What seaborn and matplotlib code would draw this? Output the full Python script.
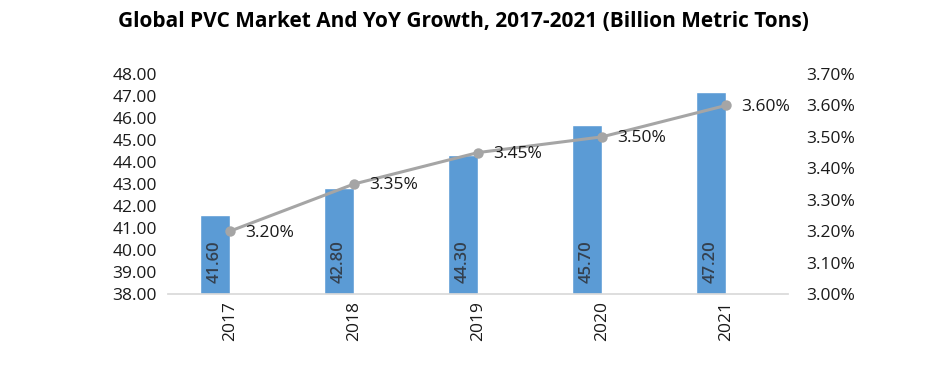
import matplotlib
matplotlib.use('Agg')
import matplotlib.pyplot as plt
import seaborn as sns
import pandas as pd

sns.set_theme(style='white')
plt.rcParams['font.family'] = ['Open Sans', 'DejaVu Sans']

# 데이터
years = ['2017', '2018', '2019', '2020', '2021']
market = [41.60, 42.80, 44.30, 45.70, 47.20]
growth = [3.20, 3.35, 3.45, 3.50, 3.60]

df = pd.DataFrame({'year': years, 'market': market, 'growth': growth})

fig = plt.figure(figsize=(9.41, 3.70), dpi=100)
ax = fig.add_axes([0.1785, 0.2054, 0.6589, 0.5946])

bar_w = 0.24
sns.barplot(data=df, x='year', y='market', color='#5B9BD5', width=bar_w,
            saturation=1, ax=ax)
# 막대를 카테고리 중심 왼쪽으로 이동 (엑셀 스타일)
for p in ax.patches:
    p.set_x(p.get_x() - bar_w / 2)

ax.set_ylim(38, 48)
ax.set_yticks(range(38, 49))
ax.set_yticklabels([f'{v:.2f}' for v in range(38, 49)], fontsize=12.5, color='#1A1A1A')
ax.set_xlabel('')
ax.set_ylabel('')
ax.tick_params(axis='x', labelrotation=90, labelsize=12.5, length=0, pad=5,
               labelcolor='#1A1A1A')
ax.tick_params(axis='y', length=0, pad=8)
for s in ['top', 'right', 'left']:
    ax.spines[s].set_visible(False)
ax.spines['bottom'].set_color('#D9D9D9')

# 막대 라벨
for i, v in enumerate(market):
    ax.text(i - bar_w / 2, 38.5, f'{v:.2f}', rotation=90, ha='center', va='bottom',
            fontsize=12, color='#34404E', fontweight='semibold')

# 성장률 (보조축)
ax2 = ax.twinx()
sns.lineplot(x=list(range(len(years))), y=growth, ax=ax2, color='#A5A5A5',
             linewidth=2.2, marker='o', markersize=7.5, markeredgewidth=0)
ax2.set_ylim(3.0, 3.7)
yt = [3.0 + 0.1 * i for i in range(8)]
ax2.set_yticks(yt)
ax2.set_yticklabels([f'{v:.2f}%' for v in yt], fontsize=12.5, color='#1A1A1A')
ax2.tick_params(axis='y', length=0, pad=13)
for s in ['top', 'right', 'left', 'bottom']:
    ax2.spines[s].set_visible(False)
ax.set_xlim(-0.5, 4.5)

for i, g in enumerate(growth):
    ax2.annotate(f'{g:.2f}%', (i, g), xytext=(11, -1), textcoords='offset points',
                 ha='left', va='center', fontsize=12.5, color='#1A1A1A')

fig.suptitle('Global PVC Market And YoY Growth, 2017-2021 (Billion Metric Tons)',
             x=0.492, y=0.97, fontsize=15, fontweight='bold', color='black')

plt.savefig('out.png', dpi=100)
